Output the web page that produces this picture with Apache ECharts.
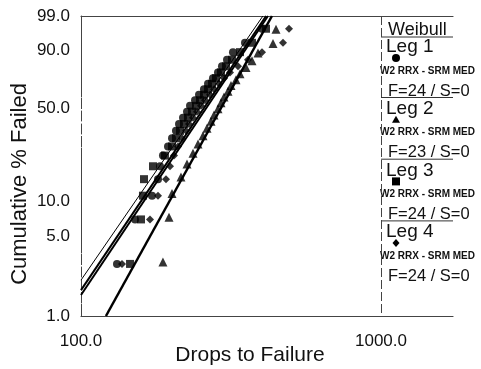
<!DOCTYPE html>
<html lang="en">
<head>
    <meta charset="UTF-8">
    <title>Weibull</title>
    <script src="https://cdn.jsdelivr.net/npm/echarts@6/dist/echarts.min.js"></script>
    <style>
        html, body { margin: 0; padding: 0; background: #fff; }
    </style>
</head>
<body>
<div id="main" style="width: 481px;height:369px;"></div>
<script>
    // tick labels
    var pctTicks = [1, 5, 10, 50, 90, 99];
    var dropTicks = [100, 1000];

    // median rank positions (% failed)
    var rank24 = [2.87, 6.97, 11.07, 15.16, 19.26, 23.36, 27.46, 31.56, 35.66, 39.75, 43.85, 47.95,
        52.05, 56.15, 60.25, 64.34, 68.44, 72.54, 76.64, 80.74, 84.84, 88.93, 93.03, 97.13];
    var rank23 = [2.99, 7.26, 11.54, 15.81, 20.09, 24.36, 28.63, 32.91, 37.18, 41.45, 45.73, 50.0,
        54.27, 58.55, 62.82, 67.09, 71.37, 75.64, 79.91, 84.19, 88.46, 92.74, 97.01];

    // drops to failure
    var leg1Drops = [131.8, 151.4, 172.5, 180.6, 183.4, 187.6, 195.0, 201.1, 207.3, 212.2, 218.8, 225.6,
        230.9, 239.9, 247.4, 257.0, 265.1, 275.4, 286.2, 295.1, 306.7, 321.1, 352.1, 401.2];
    var leg2Drops = [187.6, 196.5, 201.1, 215.4, 225.6, 236.2, 245.5, 255.1, 263.0, 271.2, 277.5, 286.2,
        292.9, 299.7, 309.0, 316.2, 328.6, 338.8, 354.8, 371.5, 389.0, 436.6, 446.7];
    var leg3Drops = [145.7, 158.5, 160.9, 162.2, 173.8, 190.5, 201.1, 207.3, 213.8, 220.5, 227.3, 234.4,
        241.7, 249.3, 257.0, 265.1, 273.3, 281.8, 292.9, 304.3, 318.7, 338.8, 371.5, 413.7];
    var leg4Drops = [137.0, 169.8, 180.6, 192.0, 198.0, 204.2, 210.5, 217.1, 223.9, 229.1, 236.2, 243.6,
        251.2, 259.0, 269.2, 277.5, 288.4, 299.7, 313.8, 333.7, 360.3, 401.2, 471.3, 493.6];

    // fit line end points
    var fitDrops = [[100, 414], [121.1, 433], [100, 420], [100, 404]];
    var fitPct = [[1.69, 99], [1, 99], [1.53, 99], [2.07, 99]];

    var legNames = ['Leg 1', 'Leg 2', 'Leg 3', 'Leg 4'];
    var legCounts = ['F=24 / S=0', 'F=23 / S=0', 'F=24 / S=0', 'F=24 / S=0'];
    var legSub = 'W2 RRX - SRM MED';

    var FONT = '"Liberation Sans", Arial, sans-serif';

    function weib(p) {
        return Math.log(-Math.log(1 - p / 100));
    }

    function toPoints(drops, pct) {
        var arr = [];
        for (var i = 0; i < drops.length; i++) {
            arr.push([drops[i], weib(pct[i])]);
        }
        return arr;
    }

    var symbols = ['circle', 'triangle', 'rect', 'diamond'];
    var symSize = [8, 9, 8, 8];
    var lineW = [2, 2.5, 2, 1];
    var allDrops = [leg1Drops, leg2Drops, leg3Drops, leg4Drops];
    var allRanks = [rank24, rank23, rank24, rank24];

    var series = [];
    for (var i = 0; i < 4; i++) {
        series.push({
            type: 'line',
            data: toPoints(fitDrops[i], fitPct[i]),
            showSymbol: false,
            clip: true,
            lineStyle: {color: '#000', width: lineW[i]},
            z: 2
        });
    }
    for (var i = 0; i < 4; i++) {
        series.push({
            type: 'scatter',
            data: toPoints(allDrops[i], allRanks[i]),
            symbol: symbols[i],
            symbolSize: symSize[i],
            itemStyle: {color: '#000'},
            z: 3
        });
    }

    // legend box drawn on the right
    var graphic = [
        {type: 'text', x: 20, y: 184, rotation: Math.PI / 2,
            style: {text: 'Cumulative % Failed', font: '22px ' + FONT, fill: '#111', align: 'center', verticalAlign: 'middle'}},
        {type: 'text', x: 250, y: 355,
            style: {text: 'Drops to Failure', font: '21px ' + FONT, fill: '#111', align: 'center', verticalAlign: 'middle'}},
        {type: 'text', x: 388, y: 30,
            style: {text: 'Weibull', font: '18px ' + FONT, fill: '#111', verticalAlign: 'middle'}},
        {type: 'line', shape: {x1: 381, y1: 37, x2: 453, y2: 37}, style: {stroke: '#333', lineWidth: 1}}
    ];
    var shapes = {
        circle: function (cx, cy) { return {type: 'circle', shape: {cx: cx, cy: cy, r: 4}, style: {fill: '#000'}}; },
        triangle: function (cx, cy) { return {type: 'polygon', shape: {points: [[cx, cy - 4], [cx + 4, cy + 3], [cx - 4, cy + 3]]}, style: {fill: '#000'}}; },
        rect: function (cx, cy) { return {type: 'rect', shape: {x: cx - 4, y: cy - 4, width: 8, height: 8}, style: {fill: '#000'}}; },
        diamond: function (cx, cy) { return {type: 'polygon', shape: {points: [[cx, cy - 4], [cx + 3.5, cy], [cx, cy + 4], [cx - 3.5, cy]]}, style: {fill: '#000'}}; }
    };
    for (var i = 0; i < 4; i++) {
        var legY = 47 + i * 61.7;
        graphic.push({type: 'text', x: 386, y: legY,
            style: {text: legNames[i], font: '19px ' + FONT, fill: '#111', verticalAlign: 'middle'}});
        graphic.push(shapes[symbols[i]](396, legY + 11));
        graphic.push({type: 'text', x: 380, y: legY + 24,
            style: {text: legSub, font: 'bold 10px ' + FONT, fill: '#111', verticalAlign: 'middle'}});
        graphic.push({type: 'text', x: 388, y: legY + 44,
            style: {text: legCounts[i], font: '16.5px ' + FONT, fill: '#111', verticalAlign: 'middle'}});
        if (i < 3) {
            graphic.push({type: 'line', shape: {x1: 381, y1: legY + 50.5, x2: 453, y2: legY + 50.5},
                style: {stroke: '#333', lineWidth: 1}});
        }
    }

    var myChart = echarts.init(document.getElementById('main'));
    var option = {
        animation: false,
        backgroundColor: '#fff',
        grid: {left: 81, top: 16, right: 28, bottom: 53},
        xAxis: [
            {
                type: 'log',
                logBase: 10,
                min: dropTicks[0],
                max: 1738,
                interval: 1,
                axisLine: {onZero: false, lineStyle: {color: '#444', width: 1.2}},
                axisTick: {show: false},
                axisLabel: {
                    showMaxLabel: false,
                    margin: 17,
                    color: '#111',
                    fontSize: 17,
                    fontFamily: FONT,
                    formatter: function (v) { return v.toFixed(1); }
                },
                splitLine: {show: true, showMaxLine: false, lineStyle: {color: '#444', type: [9, 3], width: 1}}
            },
            {
                type: 'log',
                logBase: 10,
                position: 'top',
                min: dropTicks[0],
                max: 1738,
                interval: 1,
                axisLine: {onZero: false, lineStyle: {color: '#444', width: 1.2}},
                axisTick: {show: false},
                axisLabel: {show: false},
                splitLine: {show: false}
            }
        ],
        yAxis: {
            type: 'value',
            min: weib(1),
            max: weib(99),
            axisLine: {show: true, onZero: false, lineStyle: {color: '#444', type: [10, 3], width: 1}},
            axisTick: {show: false},
            splitLine: {show: false},
            axisLabel: {
                customValues: pctTicks.map(weib),
                margin: 11,
                color: '#111',
                fontSize: 17,
                fontFamily: FONT,
                formatter: function (v) {
                    var p = 100 * (1 - Math.exp(-Math.exp(v)));
                    return (Math.round(p * 10) / 10).toFixed(1);
                }
            }
        },
        graphic: graphic,
        series: series
    };
    myChart.setOption(option);
</script>
</body>
</html>
